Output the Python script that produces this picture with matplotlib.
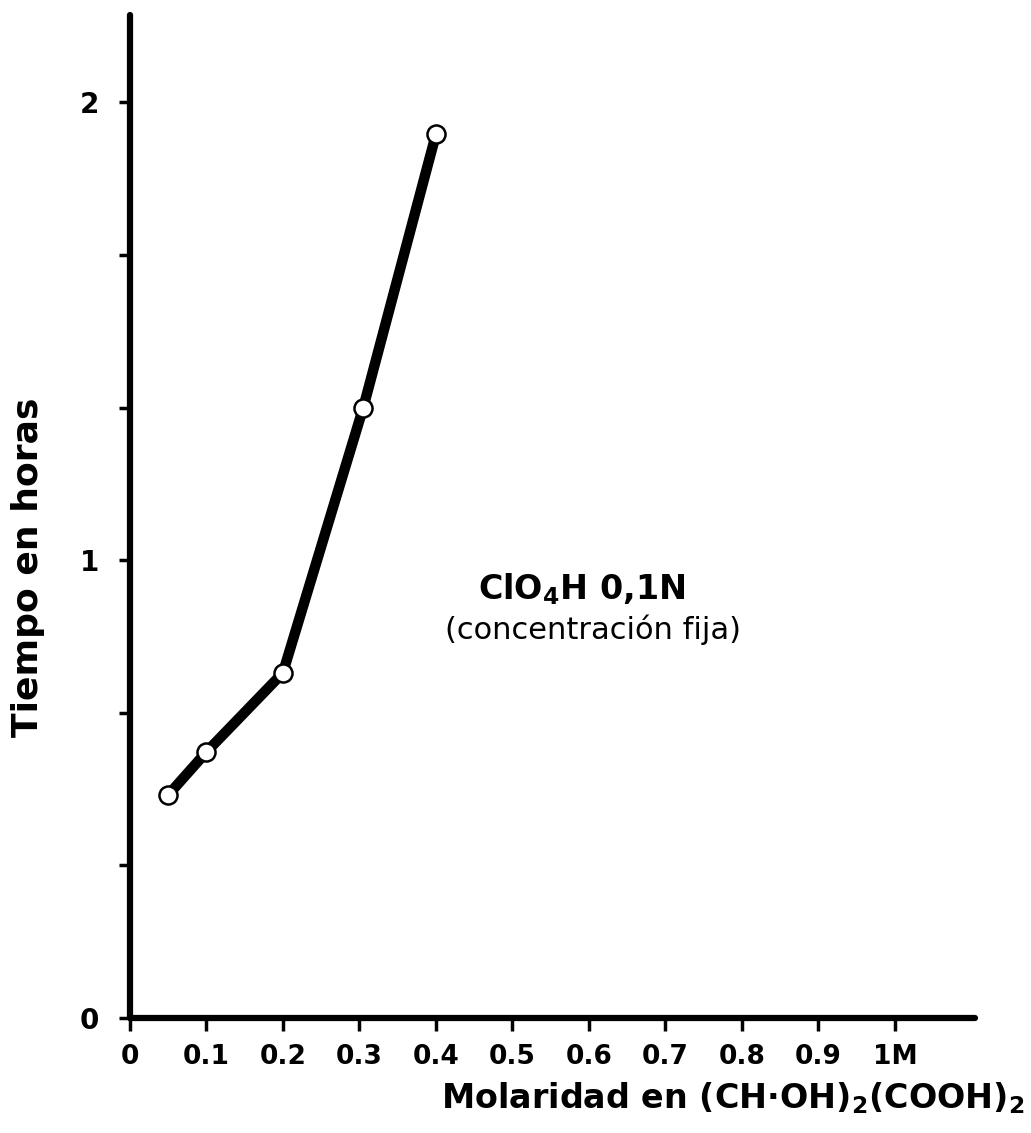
import matplotlib
matplotlib.use('Agg')
import matplotlib.pyplot as plt
import numpy as np

# datos
molaridad = [0.05, 0.1, 0.2, 0.305, 0.4]
tiempo = [0.487, 0.581, 0.754, 1.333, 1.93]

xticks = [0, 0.1, 0.2, 0.3, 0.4, 0.5, 0.6, 0.7, 0.8, 0.9, 1.0]
xticklabels = ['0', '0.1', '0.2', '0.3', '0.4', '0.5', '0.6', '0.7', '0.8', '0.9', '1M']
yticks = [0, 1, 2]
yminor = [1/3, 2/3, 4/3, 5/3]

plt.rcParams['font.family'] = ['DejaVu Sans']

fig = plt.figure(figsize=(10.31, 11.33), dpi=100)
ax = fig.add_axes([0.126, 0.1015, 0.82, 0.885])

ax.plot(molaridad, tiempo, color='black', lw=7.5, solid_capstyle='round',
        solid_joinstyle='round', zorder=3)
ax.plot(molaridad, tiempo, 'o', ms=13, mfc='white', mec='black', mew=1.8, zorder=4)

ax.set_xlim(0, 1.105)
ax.set_ylim(0, 2.19)

for s in ['top', 'right']:
    ax.spines[s].set_visible(False)
for s in ['left', 'bottom']:
    ax.spines[s].set_linewidth(4.5)
    ax.spines[s].set_capstyle('round')

ax.set_xticks(xticks)
ax.set_xticklabels(xticklabels, fontsize=19, fontweight='bold')
ax.set_yticks(yticks)
ax.set_yticklabels(['0', '1', '2'], fontsize=20, fontweight='bold')
ax.set_yticks(yminor, minor=True)
ax.tick_params(axis='x', length=9, width=2.5, pad=10)
ax.tick_params(axis='y', which='both', length=8, width=2.5, pad=14)

ax.set_ylabel('Tiempo en horas', fontsize=26, fontweight='bold')
ax.yaxis.set_label_coords(-0.1, 0.45)
ax.set_xlabel('Molaridad en (CH·OH)$_\\mathbf{2}$(COOH)$_\\mathbf{2}$', fontsize=24,
              fontweight='bold')
ax.xaxis.set_label_coords(1.058, -0.062)
ax.xaxis.label.set_horizontalalignment('right')

ax.text(0.591, 0.936, 'ClO$_\\mathbf{4}$H 0,1N', fontsize=24, fontweight='bold',
        ha='center', va='center')
ax.text(0.605, 0.848, '(concentración fija)', fontsize=22, ha='center', va='center')

fig.savefig('out.png', dpi=100)
